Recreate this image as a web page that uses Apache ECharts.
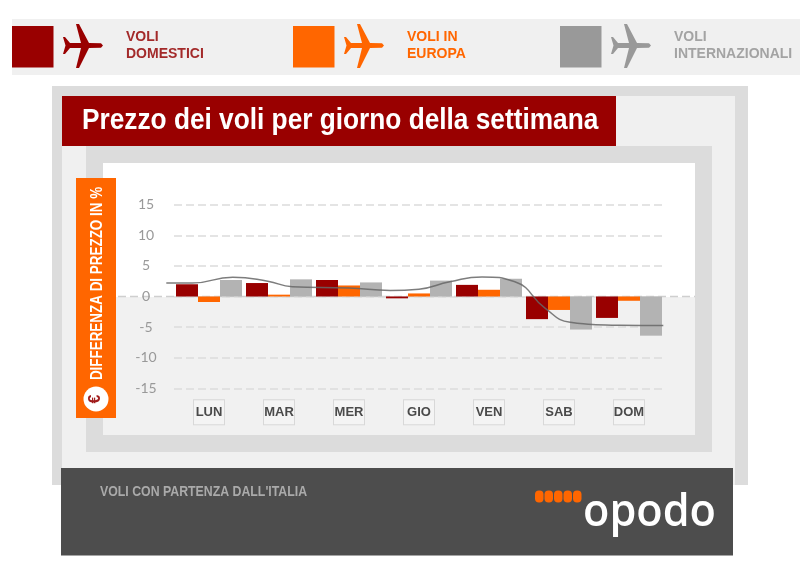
<!DOCTYPE html>
<html>
<head>
<meta charset="utf-8">
<title>Prezzo dei voli per giorno della settimana</title>
<script src="https://cdn.jsdelivr.net/npm/echarts@6/dist/echarts.min.js"></script>
<style>
html, body { margin: 0; padding: 0; background: #fff; }
#main { width: 800px; height: 561px; }
</style>
</head>
<body>
<div id="main"></div>
<script>
var days = ['LUN', 'MAR', 'MER', 'GIO', 'VEN', 'SAB', 'DOM'];
var domestici = [2.0, 2.2, 2.7, -0.3, 1.9, -3.7, -3.5];
var europa = [-0.9, 0.3, 1.8, 0.5, 1.1, -2.2, -0.7];
var internazionali = [2.7, 2.8, 2.3, 2.6, 2.9, -5.4, -6.4];
// trend line: [position in day units, value]
var trend = [[-0.11, 2.2], [0.26, 2.2], [0.84, 3.15], [1.34, 2.5], [1.69, 1.6], [2.5, 1.4], [3.09, 1.0], [3.5, 1.2],
  [3.94, 2.4], [4.4, 3.2], [4.87, 2.4], [5.3, -1.9], [5.66, -4.2], [6.37, -4.7], [6.99, -4.75]];
var yTicks = [-15, -10, -5, 0, 5, 10, 15];
var titleText = 'Prezzo dei voli per giorno della settimana';
var yTitle = 'DIFFERENZA DI PREZZO IN %';
var footerText = "VOLI CON PARTENZA DALL'ITALIA";
var legendItems = [
  { lines: 'VOLI\nDOMESTICI', color: '#990000', text: '#a32a2a', x: 12 },
  { lines: 'VOLI IN\nEUROPA', color: '#ff6600', text: '#ff6600', x: 293 },
  { lines: 'VOLI\nINTERNAZIONALI', color: '#999999', text: '#a3a3a3', x: 560 }
];
// plane silhouette, nose to the right
var planeShape = [[41, 21.5], [39, 19.3], [27, 19], [17, 0], [14, 0], [19, 19], [8, 19], [3, 13], [1, 13], [3.5, 21.5],
  [1, 30], [3, 30], [8, 24], [19, 24], [14, 44], [17, 44], [27, 24], [39, 23.7]];

function box(x, y, w, h, fill, z) {
  return { type: 'rect', shape: { x: x, y: y, width: w, height: h }, style: { fill: fill }, z: z, silent: true };
}

var elements = [
  box(12, 19, 788, 56, '#f0f0f0', -20),
  box(52, 86, 696, 399, '#dcdcdc', -20),
  box(62, 96, 673, 389, '#f0f0f0', -19),
  box(86, 146, 626, 306, '#dcdcdc', -18),
  box(103, 163, 592, 134, '#ffffff', -17),
  box(103, 297, 592, 138, '#f1f1f1', -17),
  { type: 'line', shape: { x1: 118, y1: 296.5, x2: 695, y2: 296.5 }, style: { stroke: '#cfcfcf', lineWidth: 1.5, lineDash: [8, 4] }, z: -16, silent: true },
  box(62, 96, 554, 50, '#990000', 1),
  { type: 'text', x: 82, y: 121, scaleX: 0.905, z: 2, style: {
    text: titleText, fill: '#fff', font: 'bold 29px "Liberation Sans"', verticalAlign: 'middle' } },
  box(76, 178, 40, 240, '#ff6600', 1),
  { type: 'text', x: 97, y: 283.5, rotation: Math.PI / 2, scaleX: 0.79, z: 2, style: {
    text: yTitle, fill: '#fff', font: 'bold 17px "Liberation Sans"', align: 'center', verticalAlign: 'middle' } },
  { type: 'circle', shape: { cx: 96, cy: 399, r: 12.5 }, style: { fill: '#fff' }, z: 2, silent: true },
  { type: 'text', x: 96, y: 399, rotation: Math.PI / 2, z: 3, style: {
    text: '€', fill: '#a01c1c', font: 'bold 16px "Liberation Sans"', align: 'center', verticalAlign: 'middle' } },
  box(61, 468, 672, 87.5, '#4d4d4d', 5),
  { type: 'text', x: 100, y: 492, scaleX: 0.88, z: 6, style: {
    text: footerText, fill: '#aaaaaa', font: 'bold 14px "Liberation Sans"', verticalAlign: 'middle' } },
  { type: 'text', x: 583, y: 513, scaleX: 0.94, z: 6, style: {
    text: 'opodo', fill: '#fff', font: '600 46px "Open Sans"', verticalAlign: 'middle' } }
];

[535, 544.5, 554, 563.5, 573].forEach(function (x) {
  elements.push({ type: 'rect', shape: { x: x, y: 490.5, width: 8.5, height: 12, r: 4 }, style: { fill: '#ff6600' }, z: 6, silent: true });
});

legendItems.forEach(function (item) {
  elements.push(box(item.x, 26, 41.5, 41.5, item.color, 1));
  elements.push({ type: 'polygon', x: item.x + 50, y: 24, z: 1, silent: true,
    shape: { points: planeShape }, style: { fill: item.color } });
  elements.push({ type: 'text', x: item.x + 114, y: 45.5, z: 1, style: {
    text: item.lines, fill: item.text, font: 'bold 14px "Liberation Sans"', lineHeight: 17.5, verticalAlign: 'middle' } });
});

var chart = echarts.init(document.getElementById('main'), null, { renderer: 'canvas' });
chart.setOption({
  animation: false,
  backgroundColor: '#fff',
  grid: [
    { left: 174, top: 204.7, width: 490, height: 183.6 },
    // same scale as the bars, a little wider so the trend line can run past the first and last day
    { left: 160, top: 204.7, width: 518, height: 183.6 }
  ],
  xAxis: [
    { type: 'category', data: days, position: 'bottom', axisLine: { show: false, onZero: false }, axisTick: { show: false },
      axisLabel: { interval: 0, margin: 12, color: '#4a4a4a', fontFamily: 'Liberation Sans', fontWeight: 'bold', fontSize: 13,
        width: 30, height: 24, lineHeight: 24, align: 'center', verticalAlign: 'top', backgroundColor: '#f4f4f4', borderColor: '#d8d8d8', borderWidth: 1 } },
    { gridIndex: 1, type: 'value', min: -0.2, max: days.length + 0.2, show: false }
  ],
  yAxis: [
    { type: 'value', min: yTicks[0], max: yTicks[yTicks.length - 1], interval: 5,
      axisLine: { show: false }, axisTick: { show: false },
      axisLabel: { margin: 28, align: 'center', color: '#999', fontFamily: 'Lato', fontSize: 14 },
      splitLine: { lineStyle: { color: '#dcdcdc', width: 1.5, type: [8, 4] } } },
    { gridIndex: 1, type: 'value', min: yTicks[0], max: yTicks[yTicks.length - 1], show: false }
  ],
  series: [
    { name: 'Voli domestici', type: 'bar', data: domestici, barWidth: 22, barGap: 0, itemStyle: { color: '#990000' } },
    { name: 'Voli in Europa', type: 'bar', data: europa, barWidth: 22, barGap: 0, itemStyle: { color: '#ff6600' } },
    { name: 'Voli internazionali', type: 'bar', data: internazionali, barWidth: 22, barGap: 0, itemStyle: { color: '#b3b3b3' } },
    { name: 'Andamento', type: 'line', xAxisIndex: 1, yAxisIndex: 1, data: trend, smooth: 0.5, showSymbol: false,
      lineStyle: { color: '#666', width: 1.5, opacity: 0.85 }, z: 5 }
  ],
  graphic: { elements: elements }
});
</script>
</body>
</html>
